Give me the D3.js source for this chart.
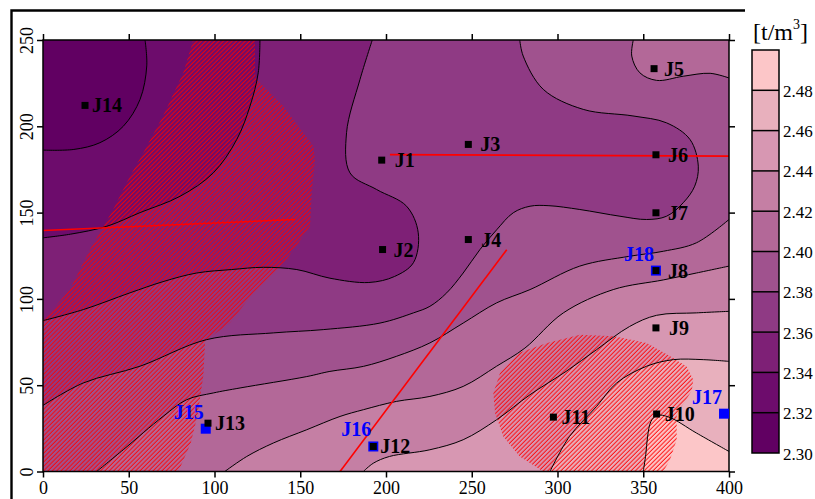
<!DOCTYPE html>
<html>
<head>
<meta charset="utf-8">
<script src="https://cdn.jsdelivr.net/npm/d3@7/dist/d3.min.js"></script>
<style>
  body { margin: 0; background: #fff; }
  svg { display: block; font-family: "Liberation Serif", "Times New Roman", serif; }
</style>
</head>
<body>
<svg id="chart" width="815" height="499"></svg>
<script>
// ---- data (x,y in m) ----
var levels = [2.30, 2.32, 2.34, 2.36, 2.38, 2.40, 2.42, 2.44, 2.46, 2.48, 2.50];
var bandColors = ["#610062", "#6d0c6c", "#7e2076", "#8f3a84", "#a0528e", "#b36898", "#c57fa4", "#d797b2", "#e8b0bd", "#fcc6c8"];
var xTicks = [0, 50, 100, 150, 200, 250, 300, 350, 400];
var yTicks = [0, 50, 100, 150, 200, 250];
var cbTicks = [2.30, 2.32, 2.34, 2.36, 2.38, 2.40, 2.42, 2.44, 2.46, 2.48];

// contour lines, each ordered so that the higher side lies on the boundary walk after the last point
var c232 = [[59.5,250],[60.5,235],[56.6,215.6],[46.8,200],[33.2,190.5],[18,186.6],[0,186.2]];
var c234 = [[126.5,250],[125.5,231],[120.7,211.7],[113,192.4],[99.3,173],[80,159.5],[56.6,150],[37,142],[16,137.5],[0,135.4]];
var c236 = [[192,250],[184.8,227],[177,196.3],[179,173],[194.5,163.4],[212,153.7],[218.8,138.3],[216,121],[205,113],[190,109.5],
            [167.3,112],[148,117],[128.5,118.3],[110,117],[89.6,115],[70,110],[50.7,103.5],[23.5,93.8],[0,87.4]];
var c238 = [[278,250],[280,240.7],[291.7,221.4],[315,209.8],[344,206],[363.6,202],[377.3,192.3],[382.1,176.9],[380,165.3],
            [373.3,155.7],[363.6,147.9],[352,146],[336.4,147.9],[313,151.8],[295,154],[284,153.7],[274.2,149.9],[264.5,140],
            [254.8,128.6],[245,115],[235.4,103.5],[225.6,95.7],[216,91.9],[196.5,86],[163.4,82.2],[134.3,80.3],[95.4,76.4],
            [56.6,61],[23.5,51.3],[0,38.3]];
var c240a = [[344.2,250],[343.3,240.7],[348,231],[357.8,226.6],[373.3,229],[389,230.7],[400,228]];
var c240b = [[400,146],[381,132.5],[361.7,127.6],[342,124.7],[313,119],[284,105.4],[264.5,97.7],[245,86],[225.6,74.5],
             [206,66.7],[186.8,60.9],[167.3,58],[153.8,55],[114.9,48.4],[99.3,45.5],[83.8,41.6],[70,31.9],[46.8,12.6],[31.3,0]];
var c242 = [[400,119],[381,115],[361.7,111],[332.5,105.4],[303.4,91.9],[281,71.5],[264.5,61],[245,49.3],[225.6,43.5],
            [206,40.6],[186.8,35.8],[173.2,31.9],[153.8,24.2],[134.3,16.5],[118.8,8.7],[106,0]];
var c244 = [[400,92.8],[381,91.9],[357.8,90.5],[342,84],[322.8,70.6],[305,58],[284,44.5],[264.5,30],[245,18.4],
            [225.6,12.6],[202,8.7],[192.6,4.8],[186.8,0]];
var c246 = [[400,63.8],[385,64.8],[367.5,64.8],[352,61],[334.5,51.3],[322.8,37.7],[307,20.3],[295.6,0]];
var c248 = [[400,11.6],[381,22.3],[365,31.5],[358,32.5],[354.5,29],[352.5,20],[351.5,10],[350,0]];

var contourLines = [c232, c234, c236, c238, c240a, c240b, c242, c244, c246, c248];
var contourLevel = [2.32, 2.34, 2.36, 2.38, 2.40, 2.40, 2.42, 2.44, 2.46, 2.48];

// hatched zones
var hatchA = [[87.6,250],[81.8,231],[70,206],[58.5,184.7],[50.7,171],[40,150],[27.4,128.6],[15.7,105.4],[0,87],[0,0],
              [78.9,0],[86,16],[90,32],[93.5,55.6],[94.5,74.6],[95.4,76.4],[109,86],[122.6,103.5],[128.5,109.3],[142,122.8],
              [155.7,142],[156.7,161.5],[158.6,180.8],[157.6,188.5],[140,211.7],[124.6,227],[123.6,231],[123.6,250]];
var hatchB = [[278,69],[294,74.5],[313,79.3],[333,78.3],[352,74.5],[366,66.7],[375.3,60.9],[379.2,53.2],[378.3,47],[374,40],
              [369.5,33.9],[369.5,18.4],[365.6,6.8],[361.7,0],[291.7,0],[278,8.7],[268.4,20.3],[263.6,33.9],[262.6,45.5],[266.5,57.1]];

// red lines
var redLines = [
  [[0,139.6],[147,146]],
  [[202.3,183.6],[400,182.7]],
  [[173.2,0],[270.4,128.5]]
];

// wells
var wellNames = ["J1","J2","J3","J4","J5","J6","J7","J8","J9","J10","J11","J12","J13","J14"];
var wellX = [197.5, 198, 248, 248, 356.3, 357.4, 357.4, 357.4, 357.4, 357.8, 297.6, 192.6, 96.2, 24.5];
var wellY = [180.4, 128.6, 189.5, 134.4, 233.4, 183.5, 149.9, 116.4, 83.2, 33.3, 31.5, 14.5, 28, 212.1];
var blueNames = ["J15","J16","J17","J18"];
var blueX = [94.9, 192.6, 397.1, 357.4];
var blueY = [24.8, 14.5, 33.5, 116.4];

// label nudges (px)
var labelDx = {J1:13, J2:11, J3:12, J4:13, J5:10, J6:12, J7:12, J8:12, J9:13, J10:8, J11:8, J12:7, J13:7, J14:7};

// ---- drawing ----
var svg = d3.select("#chart");
var x = d3.scaleLinear().domain([0, 400]).range([43, 729]);
var y = d3.scaleLinear().domain([0, 250]).range([471.5, 40]);

var curve = d3.line().x(function(d){ return x(d[0]); }).y(function(d){ return y(d[1]); }).curve(d3.curveCatmullRom.alpha(0.5));
var straight = d3.line().x(function(d){ return x(d[0]); }).y(function(d){ return y(d[1]); });

// walk the frame counter-clockwise (in data space) from a to b
var corners = [[400,0,400],[400,250,650],[0,250,1050],[0,0,1300]];
function tOf(p) {
  if (p[1] <= 0.01) return p[0];
  if (p[0] >= 399.99) return 400 + p[1];
  if (p[1] >= 249.99) return 650 + (400 - p[0]);
  return 1050 + (250 - p[1]);
}
function walk(a, b) {
  var t0 = tOf(a), t1 = tOf(b);
  if (t1 <= t0) t1 += 1300;
  var all = corners.concat(corners.map(function(c){ return [c[0], c[1], c[2] + 1300]; }));
  return all.filter(function(c){ return c[2] > t0 && c[2] < t1; }).map(function(c){ return [c[0], c[1]]; });
}

var defs = svg.append("defs");
defs.append("clipPath").attr("id", "plotClip")
  .append("rect").attr("x", x(0)).attr("y", y(250)).attr("width", x(400) - x(0)).attr("height", y(0) - y(250));

var pat = defs.append("pattern").attr("id", "hatch")
  .attr("patternUnits", "userSpaceOnUse").attr("width", 3.1).attr("height", 10)
  .attr("patternTransform", "rotate(45)");
pat.append("line").attr("x1", 1).attr("y1", 0).attr("x2", 1).attr("y2", 10)
  .attr("stroke", "#ff0000").attr("stroke-width", 0.9);

var plot = svg.append("g").attr("clip-path", "url(#plotClip)");

// filled bands
plot.append("rect").attr("x", x(0)).attr("y", y(250)).attr("width", x(400) - x(0)).attr("height", y(0) - y(250))
  .attr("fill", bandColors[0]);

contourLines.forEach(function(pts, i) {
  var band = levels.indexOf(contourLevel[i]);
  var extra = walk(pts[pts.length - 1], pts[0]);
  var d = curve(pts) + extra.map(function(p){ return "L" + x(p[0]) + "," + y(p[1]); }).join("") + "Z";
  plot.append("path").attr("d", d).attr("fill", bandColors[band]).attr("stroke", "none");
});

// hatched zones
[hatchA, hatchB].forEach(function(poly) {
  plot.append("path").attr("d", straight(poly) + "Z").attr("fill", "url(#hatch)");
});

// contour lines
contourLines.forEach(function(pts) {
  plot.append("path").attr("d", curve(pts)).attr("fill", "none").attr("stroke", "#000").attr("stroke-width", 1);
});

// red lines
redLines.forEach(function(l) {
  plot.append("path").attr("d", straight(l)).attr("fill", "none").attr("stroke", "#ff0000").attr("stroke-width", 1.6);
});

// outer figure frame
svg.append("path").attr("d", "M745,10.5H11.5V499").attr("fill", "none").attr("stroke", "#000").attr("stroke-width", 2.4);

// axes
function styleAxis(g) {
  g.select(".domain").remove();
  g.selectAll(".tick line").attr("stroke", "#000").attr("stroke-width", 1.5);
  g.selectAll(".tick text").attr("fill", "#000").attr("font-size", 18)
    .attr("font-family", "'Liberation Serif', 'Times New Roman', serif");
}
svg.append("g").attr("transform", "translate(0," + y(0) + ")")
  .call(d3.axisBottom(x).tickValues(xTicks).tickSize(6).tickPadding(4).tickFormat(d3.format("d")))
  .call(styleAxis);
svg.append("g").attr("transform", "translate(0," + y(250) + ")")
  .call(d3.axisTop(x).tickValues(xTicks).tickSize(6).tickFormat(""))
  .call(styleAxis);
svg.append("g").attr("transform", "translate(" + x(400) + ",0)")
  .call(d3.axisRight(y).tickValues(yTicks).tickSize(6).tickFormat(""))
  .call(styleAxis);
var yAx = svg.append("g").attr("transform", "translate(" + x(0) + ",0)")
  .call(d3.axisLeft(y).tickValues(yTicks).tickSize(6).tickFormat(d3.format("d")))
  .call(styleAxis);
yAx.selectAll(".tick text")
  .attr("x", null).attr("dy", null).attr("text-anchor", "middle")
  .attr("transform", "translate(-10,0) rotate(-90)");

svg.append("rect").attr("x", x(0)).attr("y", y(250)).attr("width", x(400) - x(0)).attr("height", y(0) - y(250))
  .attr("fill", "none").attr("stroke", "#000").attr("stroke-width", 1.5);

// wells
svg.selectAll(".bw").data(blueNames).enter().append("rect")
  .attr("x", function(d, i){ return x(blueX[i]) - 5; })
  .attr("y", function(d, i){ return y(blueY[i]) - 5; })
  .attr("width", 10).attr("height", 10).attr("fill", "#0000ff");
svg.selectAll(".kw").data(wellNames).enter().append("rect")
  .attr("x", function(d, i){ return x(wellX[i]) - 3.5; })
  .attr("y", function(d, i){ return y(wellY[i]) - 3.5; })
  .attr("width", 7).attr("height", 7).attr("fill", "#000");

svg.selectAll(".kl").data(wellNames).enter().append("text")
  .attr("x", function(d, i){ return x(wellX[i]) + labelDx[d]; })
  .attr("y", function(d, i){ return y(wellY[i]) + 7; })
  .attr("font-size", 20).attr("font-weight", "bold").attr("fill", "#000")
  .text(function(d){ return d; });
svg.selectAll(".bl").data(blueNames).enter().append("text")
  .attr("x", function(d, i){ return x(blueX[i]) - 2; })
  .attr("y", function(d, i){ return y(blueY[i]) - 10; })
  .attr("text-anchor", "end")
  .attr("font-size", 20).attr("font-weight", "bold").attr("fill", "#0000ff")
  .text(function(d){ return d; });

// colour bar
var cb = d3.scaleLinear().domain([2.30, 2.50]).range([453, 50]);
var cbx = 752, cbw = 27;
var cbg = svg.append("g");
cbg.selectAll("rect.band").data(bandColors).enter().append("rect")
  .attr("x", cbx).attr("width", cbw)
  .attr("y", function(d, i){ return cb(levels[i + 1]); })
  .attr("height", function(d, i){ return cb(levels[i]) - cb(levels[i + 1]); })
  .attr("fill", function(d){ return d; });
cbg.selectAll("line.sep").data(levels.slice(1, -1)).enter().append("line")
  .attr("x1", cbx).attr("x2", cbx + cbw)
  .attr("y1", function(d){ return cb(d); }).attr("y2", function(d){ return cb(d); })
  .attr("stroke", "#000").attr("stroke-width", 1.5);
cbg.append("rect").attr("x", cbx).attr("y", cb(2.50)).attr("width", cbw).attr("height", cb(2.30) - cb(2.50))
  .attr("fill", "none").attr("stroke", "#000").attr("stroke-width", 1.5);
cbg.selectAll("text.lab").data(cbTicks).enter().append("text")
  .attr("x", cbx + cbw + 4).attr("y", function(d){ return cb(d) + 6.5; })
  .attr("font-size", 17).attr("fill", "#000")
  .text(function(d){ return d3.format(".2f")(d); });

var unit = svg.append("text").attr("x", 753).attr("y", 40).attr("font-size", 24).attr("fill", "#000");
unit.append("tspan").text("[t/m");
unit.append("tspan").attr("font-size", 14).attr("dy", -11).text("3");
unit.append("tspan").attr("dy", 11).text("]");
</script>
</body>
</html>
